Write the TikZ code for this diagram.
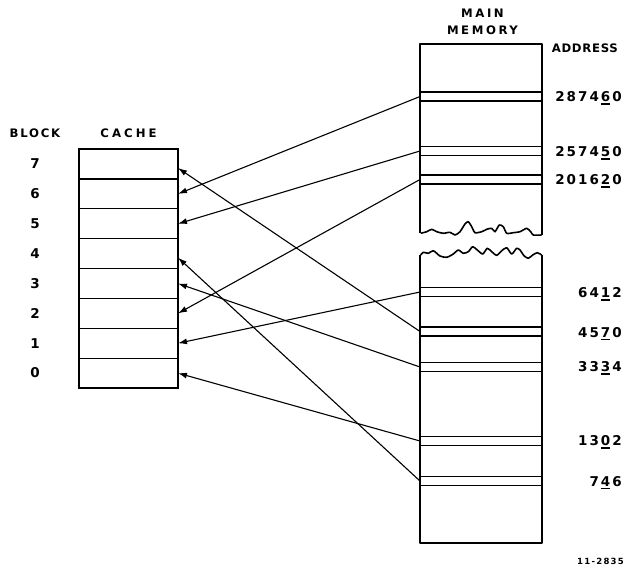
\documentclass[tikz,border=0pt]{standalone}
\usepackage{fontspec}
\setmainfont{DejaVu Sans}
\newfontfamily\lblfont[LetterSpace=15]{DejaVu Sans Bold}
\newfontfamily\widefont[LetterSpace=22]{DejaVu Sans Bold}
\newfontfamily\tightfont[LetterSpace=6]{DejaVu Sans Bold}
\newcommand\uldigit[1]{\kern0.15em\setbox0\hbox{#1}\rlap{\rule[-3.2pt]{\wd0}{1.3pt}}\box0\kern0.15em}
\usetikzlibrary{positioning, arrows.meta}

\begin{document}
\begin{tikzpicture}[x=1pt, y=-1pt,
        cell/.style={rectangle, draw=black, line width=1.2pt, inner sep=0pt, outer sep=0pt,
                     minimum width=99pt, minimum height=29.875pt},
        band/.style={rectangle, draw=black, line width=1.2pt, inner sep=0pt, outer sep=0pt,
                     minimum width=122pt, minimum height=9pt},
        lbl/.style={inner sep=0pt, font=\lblfont\fontsize{11.7}{16.7}\selectfont},
        wlbl/.style={inner sep=0pt, font=\widefont\fontsize{11.7}{16.7}\selectfont},
        num/.style={inner sep=0pt, font=\lblfont\fontsize{13.5}{15}\selectfont},
        addr/.style={num, anchor=base east},
        outline/.style={draw=black, line width=2pt, line join=round},
        tear/.style={draw=black, line width=1.6pt, line join=round},
        arrow/.style={-{Latex[length=9pt, width=6pt]}, line width=1.1pt, draw=black}
    ]
        \useasboundingbox (0,0) rectangle (626,571);

        % cache
        \node[lbl] (blocklbl) at (35,133.5) {BLOCK};
        \node[wlbl, font=\widefont\fontsize{11.7}{16.7}\selectfont\addfontfeature{LetterSpace=26}] (cachelbl) at (128.5,133.5) {CACHE};
        \node[cell] (c7) at (128.5,164) {};
        \node[cell, below=0pt of c7] (c6) {};
        \node[cell, below=0pt of c6] (c5) {};
        \node[cell, below=0pt of c5] (c4) {};
        \node[cell, below=0pt of c4] (c3) {};
        \node[cell, below=0pt of c3] (c2) {};
        \node[cell, below=0pt of c2] (c1) {};
        \node[cell, below=0pt of c1] (c0) {};
        \draw[outline] (c7.north west) rectangle (c0.south east);

        \node[num] (n7) at (35,164) {7};
        \node[num] (n6) at (35,194) {6};
        \node[num] (n5) at (35,224) {5};
        \node[num] (n4) at (35,254) {4};
        \node[num] (n3) at (35,284) {3};
        \node[num] (n2) at (35,313.5) {2};
        \node[num] (n1) at (35,343.5) {1};
        \node[num] (n0) at (35,373) {0};

        % main memory
        \node[wlbl, align=center] (mainlbl) at (482.5,22) {MAIN\\MEMORY};
        \node[inner sep=0pt, anchor=east, font=\tightfont\fontsize{11.7}{16.7}\selectfont] (addrlbl) at (618,48) {ADDRESS};

        \node[band] (b287460) at (481,96.5) {};
        \node[band] (b257450) at (481,151) {};
        \node[band] (b201620) at (481,179.5) {};
        \node[band] (b6412) at (481,292) {};
        \node[band] (b4570) at (481,331.5) {};
        \node[band] (b3334) at (481,367) {};
        \node[band] (b1302) at (481,441) {};
        \node[band] (b746) at (481,481) {};

        \draw[outline] (420,233.3) -- (420,44) -- (542,44) -- (542,235);
        \draw[outline] (420,255) -- (420,543) -- (542,543) -- (542,255);
        \draw[tear] plot[smooth, tension=0.4] coordinates {(420.7,233.3) (426.7,231.7) (431.7,229.3)
            (436.7,231.7) (443.3,233.3) (450,232.3) (455,235) (460,231.7) (465,224) (468.3,221.7)
            (471.7,226.7) (475,232.7) (481.7,231.7) (486.7,229.3) (491.7,228.3) (495,231.7)
            (499.3,225) (503.3,226.7) (506.7,233.3) (513.3,232.7) (520,231.7) (526.7,228.3)
            (530.7,231.7) (533.3,235) (541.7,235)};
        \draw[tear] plot[smooth, tension=0.4] coordinates {(420.7,255) (423.3,252.3) (428.3,253.3)
            (433.3,250.7) (440,256) (446.7,257.3) (453.3,254) (458.3,250) (463.3,253.3)
            (468.3,251.7) (472.7,246.7) (477.3,250) (482.7,254) (487.3,248.3) (491.7,251.7)
            (496.7,255.3) (501.7,250.7) (506.7,247.7) (511.7,254) (516.7,248.3) (520,250)
            (524,255.7) (528.3,258.3) (532.7,255) (537.3,252.7) (541.7,255)};

        \node[addr] (a287460) at (622,101.5) {2874\uldigit{6}0};
        \node[addr] (a257450) at (622,156.5) {2574\uldigit{5}0};
        \node[addr] (a201620) at (622,184.5) {2016\uldigit{2}0};
        \node[addr] (a6412) at (622,297.5) {64\uldigit{1}2};
        \node[addr] (a4570) at (622,337) {45\uldigit{7}0};
        \node[addr] (a3334) at (622,371.5) {33\uldigit{3}4};
        \node[addr] (a1302) at (622,445.5) {13\uldigit{0}2};
        \node[addr] (a746) at (622,486) {7\uldigit{4}6};

        \node[inner sep=0pt, font=\lblfont\fontsize{8.5}{10}\selectfont] (figno) at (600.5,561.5) {11-2835};

        \draw[arrow] (b287460.west) -- (c6.east);
        \draw[arrow] (b257450.west) -- (c5.east);
        \draw[arrow] (b201620.west) -- (c2.east);
        \draw[arrow] (b6412.west) -- (c1.east);
        \draw[arrow] (b4570.west) -- ([yshift=-4pt]c7.east);
        \draw[arrow] (b3334.west) -- (c3.east);
        \draw[arrow] (b1302.west) -- (c0.east);
        \draw[arrow] (b746.west) -- ([yshift=-4pt]c4.east);
    \end{tikzpicture}
\end{document}
